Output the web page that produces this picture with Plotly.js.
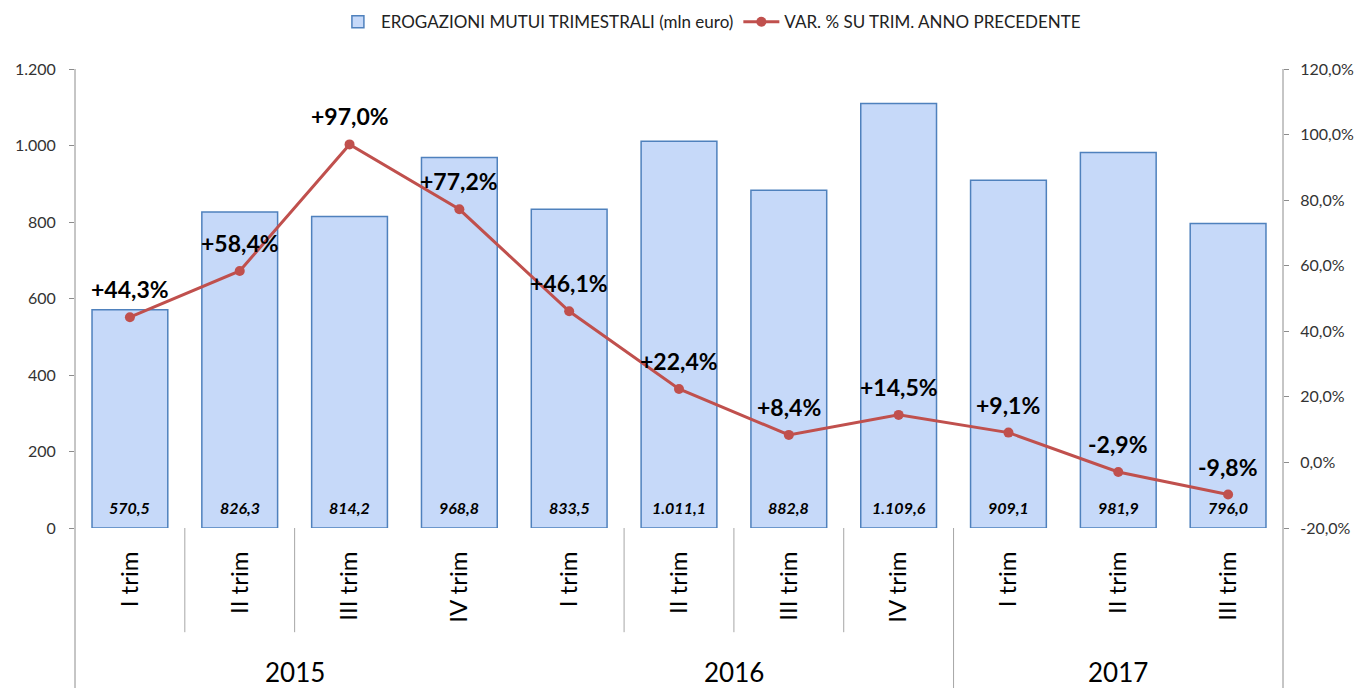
<!DOCTYPE html>
<html>
<head>
<meta charset="utf-8">
<script src="https://cdn.plot.ly/plotly-3.0.1.min.js"></script>
<style>html,body{margin:0;padding:0;background:#fff;}#chart{width:1357px;height:688px;}</style>
</head>
<body>
<div id="chart"></div>
<script>
// Data
var quarters = ['I trim','II trim','III trim','IV trim','I trim','II trim','III trim','IV trim','I trim','II trim','III trim'];
var years = ['2015','2016','2017'];
var yearCenters = [1.5, 5.5, 9];
var erogazioni = [570.5, 826.3, 814.2, 968.8, 833.5, 1011.1, 882.8, 1109.6, 909.1, 981.9, 796.0];
var variazione = [44.3, 58.4, 97.0, 77.2, 46.1, 22.4, 8.4, 14.5, 9.1, -2.9, -9.8];
var leftTicks = [0, 200, 400, 600, 800, 1000, 1200];
var rightTicks = [-20, 0, 20, 40, 60, 80, 100, 120];
var rightTickText = ['-20,0%', '0,0%', '20,0%', '40,0%', '60,0%', '80,0%', '100,0%', '120,0%'];

var xs = quarters.map(function(q, i){ return i; });
var FONT = 'Lato, "Open Sans", sans-serif';

function fmtIt(v){
  var parts = v.toFixed(1).split('.');
  var intPart = parts[0].replace(/\B(?=(\d{3})+(?!\d))/g, '.');
  return intPart + ',' + parts[1];
}

var barTrace = {
  type: 'bar', x: xs, y: erogazioni, name: 'EROGAZIONI MUTUI TRIMESTRALI (mln euro)',
  marker: {color: '#c6d9f9', line: {color: '#4f81bd', width: 1.5}},
  width: 0.69,
  hoverinfo: 'skip'
};
var lineTrace = {
  type: 'scatter', mode: 'lines+markers', x: xs, y: variazione, yaxis: 'y2',
  name: 'VAR. % SU TRIM. ANNO PRECEDENTE',
  line: {color: '#c0504d', width: 3},
  marker: {color: '#c0504d', size: 10},
  hoverinfo: 'skip'
};

var annotations = variazione.map(function(v, i){
  return {
    x: i, y: v, xref: 'x', yref: 'y2',
    text: (v > 0 ? '+' : '') + v.toFixed(1).replace('.', ',') + '%',
    showarrow: false, yanchor: 'middle', xanchor: 'center', yshift: 28,
    font: {family: FONT, size: 23, color: '#000', weight: 'bold'}
  };
});
erogazioni.forEach(function(v, i){
  annotations.push({
    x: i, y: 0, xref: 'x', yref: 'y', text: fmtIt(v),
    showarrow: false, yanchor: 'bottom', xanchor: 'center', yshift: 9,
    font: {family: FONT, size: 16, color: '#000', style: 'italic', weight: 'bold'}
  });
});
years.forEach(function(y, i){
  annotations.push({
    x: yearCenters[i], y: -0.314, xref: 'x', yref: 'paper', text: y,
    showarrow: false, yanchor: 'middle', xanchor: 'center',
    font: {family: FONT, size: 26, color: '#000'}
  });
});

var gray = '#8c8c8c';
var shapes = [
  {type:'line', xref:'paper', yref:'paper', x0:0, x1:0, y0:1, y1:-0.36, line:{color:gray, width:1}},
  {type:'line', xref:'paper', yref:'paper', x0:1, x1:1, y0:1, y1:-0.36, line:{color:gray, width:1}}
];
[0.5, 1.5, 4.5, 5.5, 6.5].forEach(function(b){
  shapes.push({type:'line', xref:'x', yref:'paper', x0:b, x1:b, y0:0, y1:-0.227, line:{color:'#a6a6a6', width:1}});
});
shapes.push({type:'line', xref:'x', yref:'paper', x0:7.5, x1:7.5, y0:0, y1:-0.36, line:{color:'#a6a6a6', width:1}});

var layout = {
  width: 1357, height: 688,
  margin: {l: 75, r: 74, t: 69, b: 160, autoexpand: false},
  paper_bgcolor: '#fff', plot_bgcolor: '#fff',
  separators: ',.',
  showlegend: true,
  legend: {orientation: 'h', x: 0.526, xanchor: 'center', y: 1.102, yanchor: 'middle',
           font: {family: FONT, size: 17, color: '#222'}, itemwidth: 36, traceorder: 'normal'},
  bargap: 0.31,
  xaxis: {
    range: [-0.5, 10.5], tickvals: xs, ticktext: quarters, tickangle: -90,
    ticks: 'outside', ticklen: 13, tickcolor: 'rgba(0,0,0,0)',
    showgrid: false, zeroline: false, showline: false, fixedrange: true,
    tickfont: {family: FONT, size: 24, color: '#000'}
  },
  yaxis: {
    range: [0, 1200], tickvals: leftTicks, tickformat: ',d',
    ticks: 'outside', ticklen: 5, tickcolor: gray, ticklabelstandoff: 10,
    showgrid: false, zeroline: false, showline: false,
    tickfont: {family: FONT, size: 16, color: '#333'}
  },
  yaxis2: {
    overlaying: 'y', side: 'right', range: [-20, 120], tickvals: rightTicks, ticktext: rightTickText,
    ticks: 'outside', ticklen: 5, tickcolor: gray, ticklabelstandoff: 8,
    showgrid: false, zeroline: false, showline: false,
    tickfont: {family: FONT, size: 16, color: '#333'}
  },
  annotations: annotations,
  shapes: shapes
};

Plotly.newPlot('chart', [barTrace, lineTrace], layout, {displayModeBar: false, staticPlot: true});
</script>
</body>
</html>
